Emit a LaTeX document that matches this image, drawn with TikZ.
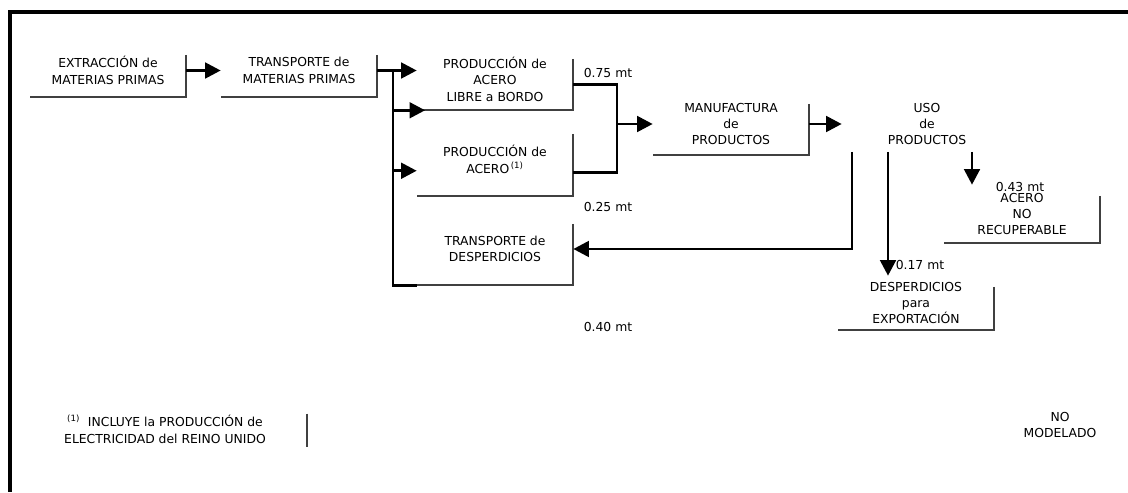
\documentclass[tikz,border=0pt]{standalone}
\usepackage{fontspec}
\setmainfont{DejaVu Sans}
\usetikzlibrary{arrows.meta,positioning}
\tikzset{
halfbox/.style={align=center,inner sep=0pt,minimum width=3.9cm,font=\fontsize{8.8}{11.7}\selectfont},
freetext/.style={align=center,inner sep=0pt,font=\fontsize{8.8}{11.7}\selectfont},
qty/.style={inner sep=0pt,font=\fontsize{8.8}{10}\selectfont},
halfline/.style={line width=1.3pt,black!75},
link/.style={line width=2.1pt},
arrow/.style={-{Triangle[length=11pt,width=11pt]},line width=2.1pt},
frameline/.style={line width=3.5pt}
}

\begin{document}
\begin{tikzpicture}[x=0.025cm,y=-0.025cm]
\useasboundingbox (0,0) rectangle (1128,492);
\draw[frameline] (1128,12) -- (10,12) -- (10,492);

\node[halfbox,minimum height=1.33cm] (extr) at (108,70.5) {EXTRACCIÓN de\\MATERIAS PRIMAS};
\node[halfbox,minimum height=1.33cm] (tmp) at (299,70.5) {TRANSPORTE de\\MATERIAS PRIMAS};
\node[halfbox,minimum height=1.55cm] (libre) at (495,79) {PRODUCCIÓN de\\ACERO\\LIBRE a BORDO};
\node[halfbox,minimum height=1.83cm] (acero) at (495,159.5) {PRODUCCIÓN de\\ACERO\textsuperscript{\,(1)}};
\node[halfbox,minimum height=1.8cm] (tdesp) at (495,249) {TRANSPORTE de\\DESPERDICIOS};
\node[halfbox,minimum height=1.55cm] (manuf) at (731,124) {MANUFACTURA\\de\\PRODUCTOS};
\node[freetext,minimum width=4.25cm,minimum height=1.4cm] (uso) at (927,124) {USO\\de\\PRODUCTOS};
\node[halfbox,minimum height=1.45cm] (nrec) at (1022,214) {ACERO\\NO\\RECUPERABLE};
\node[halfbox,minimum height=1.35cm] (dexp) at (916,303) {DESPERDICIOS\\para\\EXPORTACIÓN};
\node[freetext,minimum width=7.1cm,minimum height=0.9cm] (nota) at (165,429) {\textsuperscript{(1)}\ \ INCLUYE la PRODUCCIÓN de\\ELECTRICIDAD del REINO UNIDO};
\node[freetext] (nomod) at (1060,425) {NO\\MODELADO};

\node[qty] (q75) at (608,73) {0.75 mt};
\node[qty] (q25) at (608,207) {0.25 mt};
\node[qty] (q40) at (608,327) {0.40 mt};
\node[qty] (q43) at (1020,187) {0.43 mt};
\node[qty] (q17) at (920,265) {0.17 mt};

% half frames of the boxes
\foreach \n in {extr,tmp,libre,acero,tdesp,manuf,nrec,dexp}
  \draw[halfline] ([yshift=-8pt]\n.north east) -- (\n.south east) -- (\n.south west);
\draw[halfline] ([yshift=-2pt]nota.north east) -- (nota.south east);

\coordinate (sp) at (393,70.5);
\coordinate (mg) at (617,124);
\coordinate (u1) at (852,152);
\coordinate (u2) at (888,152);
\coordinate (u3) at (972,152);

\draw[arrow] (extr.east) -- (tmp.west);
\draw[arrow] (tmp.east) -- (tmp.east -| libre.west);
\draw[link] (sp) |- (tdesp.south west);
\draw[arrow] (libre.south west -| sp) -- ([xshift=6pt]libre.south west);
\draw[arrow] ([yshift=-8pt]acero.west -| sp) -- ([yshift=-8pt]acero.west);
\draw[link] ([yshift=-4pt]libre.east) -| (mg);
\draw[link] ([yshift=-9pt]acero.east) -| (mg);
\draw[arrow] (mg) -- (manuf.west);
\draw[arrow] (manuf.east) -- (uso.west);
\draw[arrow] (u1) |- (tdesp.east);
\draw[arrow] (u2) -- (u2 |- dexp.north);
\draw[arrow] (u3) -- (u3 |- nrec.north);
\end{tikzpicture}
\end{document}
